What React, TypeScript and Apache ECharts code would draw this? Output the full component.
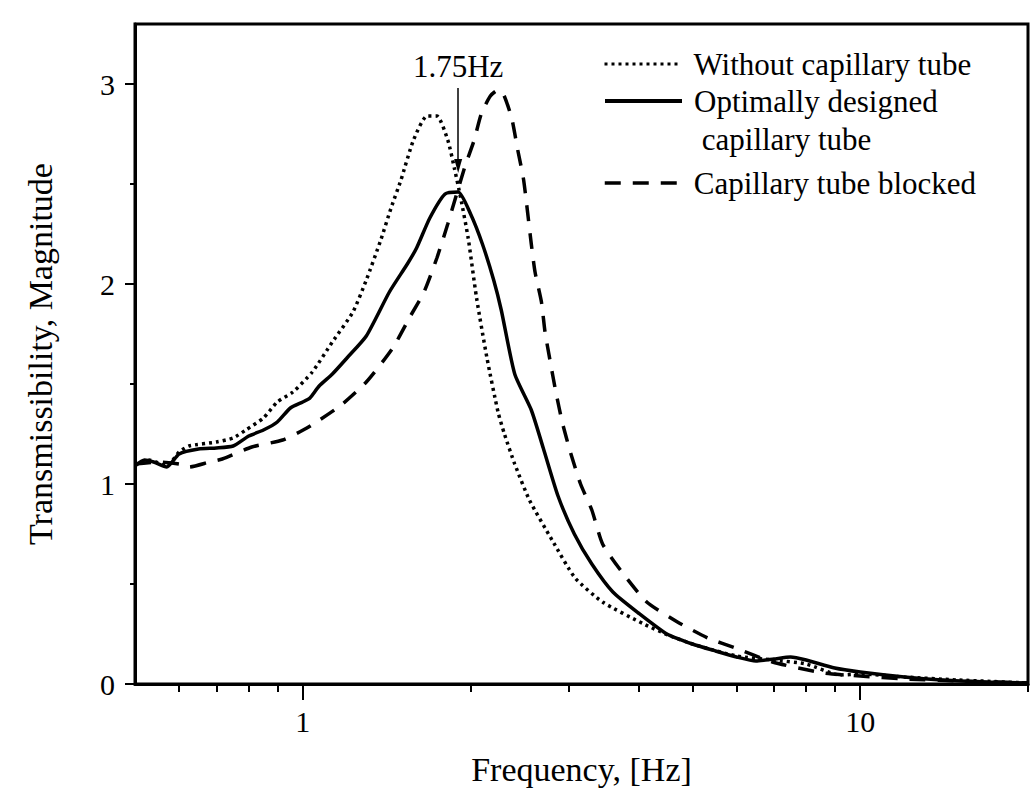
import React, { useEffect, useRef } from "react";
import * as echarts from "echarts";

// ---------- data ----------
const freqWithout = [0.5, 0.53, 0.57, 0.6, 0.625, 0.7, 0.75, 0.79, 0.85, 0.9, 0.96, 1.04, 1.13, 1.23, 1.3, 1.38, 1.44, 1.5, 1.58, 1.67, 1.74, 1.82, 1.87, 1.92, 1.98, 2.05, 2.14, 2.24, 2.3, 2.4, 2.55, 2.8, 3.08, 3.45, 4.09, 4.52, 5.0, 6.0, 7.0, 8.0, 9.2, 10, 12, 15, 20];
const magWithout = [1.1, 1.12, 1.09, 1.16, 1.19, 1.21, 1.23, 1.27, 1.33, 1.41, 1.46, 1.56, 1.71, 1.86, 2.02, 2.22, 2.38, 2.52, 2.72, 2.84, 2.84, 2.72, 2.58, 2.43, 2.23, 1.93, 1.63, 1.36, 1.25, 1.1, 0.92, 0.72, 0.53, 0.41, 0.3, 0.245, 0.2, 0.14, 0.12, 0.1, 0.045, 0.05, 0.035, 0.02, 0.005];

const freqOptimal = [0.5, 0.52, 0.54, 0.57, 0.6, 0.65, 0.7, 0.75, 0.8, 0.85, 0.9, 0.95, 1.0, 1.03, 1.07, 1.13, 1.2, 1.3, 1.43, 1.54, 1.6, 1.69, 1.8, 1.9, 2.0, 2.1, 2.2, 2.27, 2.4, 2.57, 2.7, 2.87, 3.07, 3.3, 3.6, 4.0, 4.5, 5.0, 5.5, 6.0, 6.5, 7.0, 7.5, 8.0, 9.0, 10, 12, 14, 17, 20];
const magOptimal = [1.09, 1.12, 1.11, 1.085, 1.15, 1.175, 1.18, 1.19, 1.24, 1.27, 1.31, 1.38, 1.41, 1.43, 1.49, 1.55, 1.63, 1.74, 1.96, 2.1, 2.18, 2.33, 2.45, 2.46, 2.35, 2.2, 2.02, 1.87, 1.55, 1.37, 1.18, 0.94, 0.75, 0.6, 0.46, 0.355, 0.25, 0.2, 0.165, 0.135, 0.115, 0.125, 0.135, 0.12, 0.08, 0.06, 0.035, 0.02, 0.01, 0.005];

const freqBlocked = [0.5, 0.55, 0.6, 0.625, 0.68, 0.717, 0.81, 0.92, 1.017, 1.166, 1.3, 1.45, 1.56, 1.65, 1.74, 1.82, 1.95, 2.03, 2.09, 2.17, 2.24, 2.29, 2.37, 2.43, 2.49, 2.57, 2.61, 2.68, 2.72, 2.78, 2.84, 2.92, 3.02, 3.15, 3.3, 3.45, 3.76, 4.14, 4.7, 5.33, 5.97, 6.96, 8.6, 10, 12, 15, 20];
const magBlocked = [1.1, 1.11, 1.1, 1.085, 1.11, 1.125, 1.185, 1.22, 1.28, 1.39, 1.51, 1.68, 1.84, 1.96, 2.13, 2.3, 2.58, 2.72, 2.85, 2.94, 2.97, 2.95, 2.83, 2.67, 2.52, 2.2, 2.06, 1.91, 1.76, 1.61, 1.47, 1.31, 1.16, 1.0, 0.87, 0.7, 0.55, 0.41, 0.31, 0.23, 0.18, 0.11, 0.055, 0.04, 0.025, 0.015, 0.005];

const seriesNames = ["Without capillary tube", "Optimally designed capillary tube", "Capillary tube blocked"];

const xMajorTicks = [1, 10];
const xMinorTicks = [0.6, 0.7, 0.8, 0.9, 2, 3, 4, 5, 6, 7, 8, 9, 20];
const yMajorTicks = [0, 1, 2, 3];
const yMinorTicks = [0.5, 1.5, 2.5];

const annotationText = "1.75Hz";
const annotationX = 1.9;
const annotationYStart = 2.98;
const annotationYEnd = 2.59;

const FONT = "'Liberation Serif', 'Times New Roman', serif";

function zip(xs: number[], ys: number[]) {
  return xs.map((x, i) => [x, ys[i]]);
}

export default function App() {
  const ref = useRef<HTMLDivElement>(null);

  useEffect(() => {
    document.body.style.margin = "0";
    if (!ref.current) return;
    const chart = echarts.init(ref.current, undefined, { renderer: "svg" });

    const legendText = {
      color: "#000",
      fontFamily: FONT,
      fontSize: 31,
      lineHeight: 38,
      padding: [0, 0, 0, 7],
    };
    const legendCommon = {
      left: 603,
      orient: "vertical",
      itemWidth: 77,
      itemHeight: 14,
      padding: 0,
      selectedMode: false,
      itemStyle: { opacity: 0, borderWidth: 0 },
      textStyle: legendText,
    };

    const option: any = {
      animation: false,
      backgroundColor: "#fff",
      grid: {
        left: 135,
        right: 2,
        top: 24,
        bottom: 120,
        show: true,
        borderColor: "#000",
        borderWidth: 3,
        backgroundColor: "transparent",
      },
      legend: [
        { ...legendCommon, data: [seriesNames[0]], top: 45, lineStyle: { width: 3 } },
        {
          ...legendCommon,
          data: [seriesNames[1]],
          top: 44,
          lineStyle: { width: 4 },
          formatter: () => "\nOptimally designed\n capillary tube",
        },
        { ...legendCommon, data: [seriesNames[2]], top: 164, lineStyle: { width: 3.5 } },
      ],
      xAxis: [
        {
          type: "log",
          logBase: 10,
          min: 0.5,
          max: 20,
          position: "bottom",
          axisLine: { show: true, onZero: false, lineStyle: { color: "#000", width: 3 } },
          axisTick: { show: true, inside: false, length: 16, customValues: xMajorTicks, lineStyle: { color: "#000", width: 2 } },
          axisLabel: {
            show: true,
            customValues: xMajorTicks,
            margin: 22,
            color: "#000",
            fontFamily: FONT,
            fontSize: 30,
            formatter: (v: number) => String(Math.round(v)),
          },
          splitLine: { show: false },
          minorTick: { show: false },
          name: "Frequency, [Hz]",
          nameLocation: "middle",
          nameGap: 68,
          nameTextStyle: { color: "#000", fontFamily: FONT, fontSize: 34 },
        },
        {
          type: "log",
          logBase: 10,
          min: 0.5,
          max: 20,
          position: "bottom",
          axisLine: { show: false },
          axisTick: { show: true, inside: false, length: 8, customValues: xMinorTicks, lineStyle: { color: "#000", width: 2 } },
          axisLabel: { show: false },
          splitLine: { show: false },
        },
      ],
      yAxis: [
        {
          type: "value",
          min: 0,
          max: 3.3,
          interval: 1,
          position: "left",
          axisLine: { show: true, onZero: false, lineStyle: { color: "#000", width: 3 } },
          axisTick: { show: true, inside: false, length: 10, customValues: yMajorTicks, lineStyle: { color: "#000", width: 2 } },
          axisLabel: {
            show: true,
            customValues: yMajorTicks,
            margin: 20,
            color: "#000",
            fontFamily: FONT,
            fontSize: 30,
          },
          splitLine: { show: false },
          name: "Transmissibility, Magnitude",
          nameLocation: "middle",
          nameGap: 78,
          nameTextStyle: { color: "#000", fontFamily: FONT, fontSize: 34 },
        },
        {
          type: "value",
          min: 0,
          max: 3.3,
          interval: 1,
          position: "left",
          axisLine: { show: false },
          axisTick: { show: true, inside: false, length: 5, customValues: yMinorTicks, lineStyle: { color: "#000", width: 2 } },
          axisLabel: { show: false },
          splitLine: { show: false },
        },
      ],
      series: [
        {
          name: seriesNames[0],
          type: "line",
          data: zip(freqWithout, magWithout),
          symbol: "none",
          showSymbol: false,
          smooth: 0.2,
          color: "#000",
          lineStyle: { color: "#000", width: 3.5, type: [3, 4], cap: "butt" },
          z: 3,
        },
        {
          name: seriesNames[1],
          type: "line",
          data: zip(freqOptimal, magOptimal),
          symbol: "none",
          showSymbol: false,
          smooth: 0.2,
          color: "#000",
          lineStyle: { color: "#000", width: 3.5, type: "solid" },
          z: 4,
          markLine: {
            silent: true,
            symbol: ["none", "triangle"],
            symbolSize: [8, 14],
            lineStyle: { color: "#000", width: 1.5, type: "solid" },
            label: {
              show: true,
              position: "start",
              distance: 6,
              formatter: annotationText,
              color: "#000",
              fontFamily: FONT,
              fontSize: 31,
            },
            data: [[{ coord: [annotationX, annotationYStart] }, { coord: [annotationX, annotationYEnd] }]],
          },
        },
        {
          name: seriesNames[2],
          type: "line",
          data: zip(freqBlocked, magBlocked),
          symbol: "none",
          showSymbol: false,
          smooth: 0.2,
          color: "#000",
          lineStyle: { color: "#000", width: 3.5, type: [16, 12] },
          z: 3,
        },
      ],
    };

    chart.setOption(option);
    return () => chart.dispose();
  }, []);

  return (
    <div
      ref={ref}
      style={{ position: "absolute", left: 0, top: 0, width: 1030, height: 804, background: "#fff" }}
    />
  );
}
